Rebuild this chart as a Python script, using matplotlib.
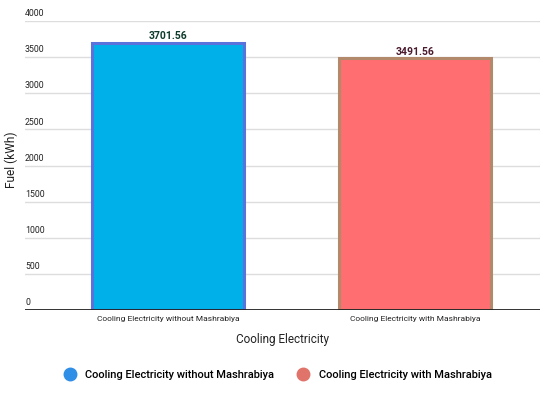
import numpy as np
import matplotlib.pyplot as plt
from matplotlib.lines import Line2D

plt.rcParams['font.family'] = ['Roboto', 'DejaVu Sans']

# chart data
categories = ['Cooling Electricity without Mashrabiya', 'Cooling Electricity with Mashrabiya']
fuel = [3701.56, 3491.56]
value_labels = ['3701.56', '3491.56']
y_ticks = [0, 500, 1000, 1500, 2000, 2500, 3000, 3500, 4000]

bar_colors = ['#00b0e8', '#ff6e70']
edge_colors = ['#5a72dc', '#b3896c']
label_colors = ['#0d3a2c', '#4a1a2e']
legend_colors = ['#2f8ee6', '#e0736a']

fig = plt.figure(figsize=(5.5, 3.96), dpi=100)
ax = fig.add_axes([25 / 550, 86 / 396, 515 / 550, 289 / 396])

x = np.arange(len(categories))
ax.bar(x, fuel, width=0.615, color=bar_colors, edgecolor=edge_colors, linewidth=2.2, zorder=3)

ax.set_xlim(-0.579, 1.506)
ax.set_ylim(0, 4000)

# gridlines and y labels sitting on top of them
for v in y_ticks:
    if v > 0:
        ax.axhline(v, color='#dddddd', linewidth=1, zorder=1)
    ax.annotate(str(v), xy=(0, v), xycoords=ax.get_yaxis_transform(),
                xytext=(0, 2), textcoords='offset points',
                ha='left', va='bottom', fontsize=6.3, color='#222222')
ax.axhline(0, color='#222222', linewidth=1.3, zorder=4)

for i in range(len(fuel)):
    ax.annotate(value_labels[i], xy=(x[i], fuel[i]), xytext=(0, 0.8), textcoords='offset points',
                ha='center', va='bottom', fontsize=7.5, fontweight='bold', color=label_colors[i])

ax.set_yticks([])
ax.set_xticks(x)
ax.set_xticklabels(categories, fontsize=6, color='#222222')
ax.tick_params(axis='x', length=0, pad=4)
for s in ax.spines.values():
    s.set_visible(False)

ax.set_xlabel('Cooling Electricity', fontsize=8.5, color='#222222')
ax.xaxis.set_label_coords(257 / 515, -23 / 289)
ax.set_ylabel('Fuel (kWh)', fontsize=8.6, color='#222222')
ax.yaxis.set_label_coords(-7 / 515, 150 / 289)

handles = [Line2D([], [], marker='o', linestyle='', markersize=9, markerfacecolor=c, markeredgecolor=c)
           for c in legend_colors]
fig.legend(handles, categories, loc='center', bbox_to_anchor=(0.5, 1 - 375 / 396), ncol=2,
           frameon=False, handletextpad=0.4, columnspacing=1.6,
           prop={'size': 8, 'weight': 'medium'})

plt.savefig('out.png', dpi=100)
